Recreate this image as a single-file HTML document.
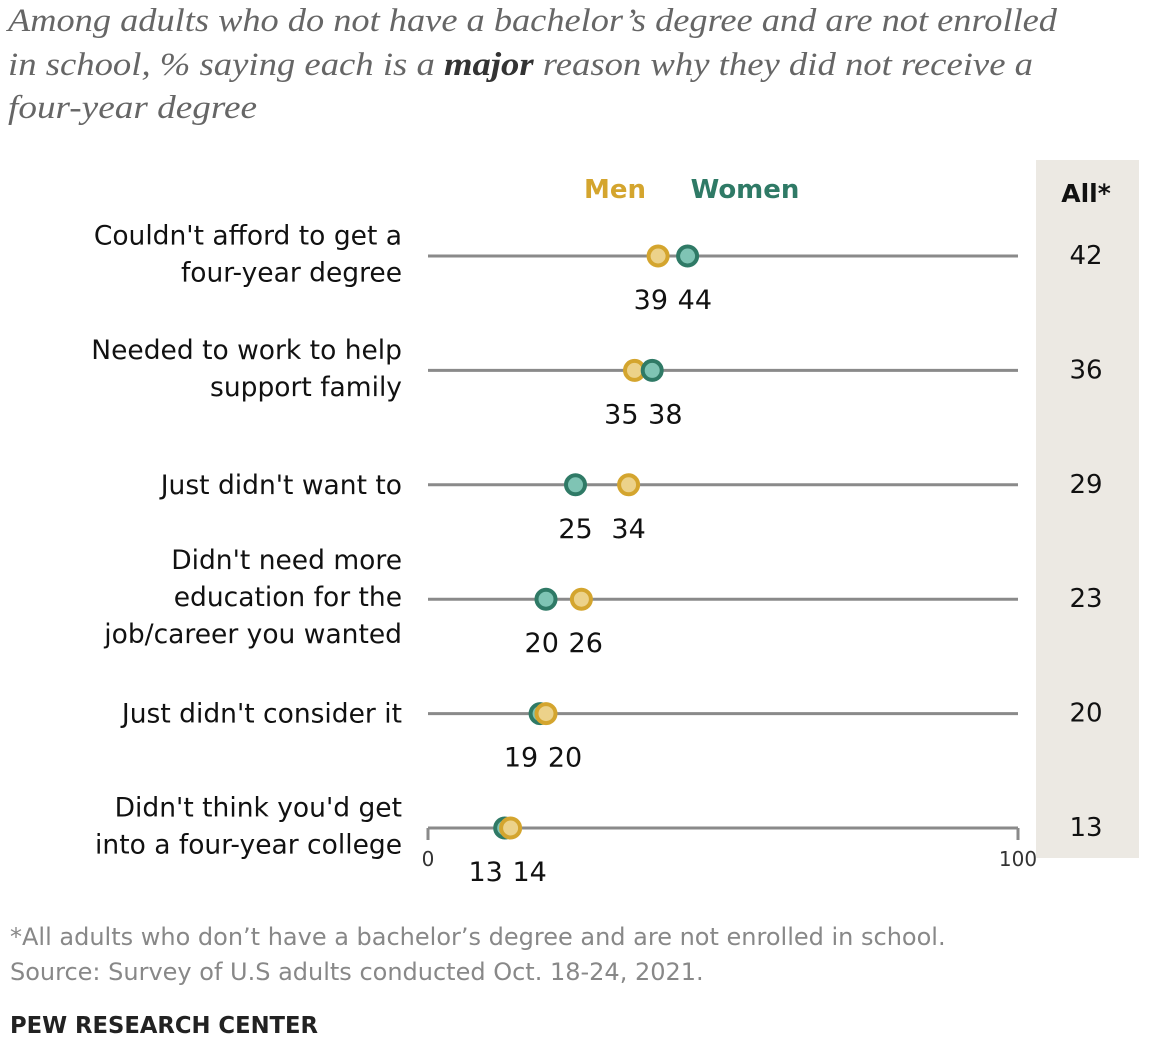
<!DOCTYPE html>
<html><head><meta charset="utf-8"><style>
body{margin:0;background:#fff;}
</style></head><body>
<svg width="1169" height="1042" xmlns="http://www.w3.org/2000/svg" id="chart" style="font-family:'DejaVu Sans',sans-serif">
<g style="font-family:'Liberation Serif',serif;font-style:italic" font-size="33" fill="#666">
<text x="8" y="31" textLength="1049" lengthAdjust="spacingAndGlyphs">Among adults who do not have a bachelor’s degree and are not enrolled</text>
<text x="8" y="75" textLength="1025" lengthAdjust="spacingAndGlyphs">in school, % saying each is a <tspan font-weight="bold" fill="#333">major</tspan> reason why they did not receive a</text>
<text x="8" y="118" textLength="249" lengthAdjust="spacingAndGlyphs">four-year degree</text>
</g>
<rect x="1036" y="160" width="103" height="698" fill="#ece9e3"/>
<text x="1086" y="202" text-anchor="middle" font-size="25" font-weight="bold" fill="#111">All*</text>
<text x="615" y="198" text-anchor="middle" font-size="26" font-weight="bold" fill="#d4a52e">Men</text>
<text x="745" y="198" text-anchor="middle" font-size="26" font-weight="bold" fill="#2f7a66">Women</text>
<g id="rows"></g>
<text x="428" y="866" text-anchor="middle" font-size="20" fill="#333">0</text>
<text x="1018" y="866" text-anchor="middle" font-size="20" fill="#333">100</text>
<text x="10" y="945" font-size="24" fill="#888">*All adults who don’t have a bachelor’s degree and are not enrolled in school.</text>
<text x="10" y="980" font-size="24" fill="#888">Source: Survey of U.S adults conducted Oct. 18-24, 2021.</text>
<text x="10" y="1033" font-size="22.7" font-weight="bold" fill="#222">PEW RESEARCH CENTER</text>
</svg>
<script>
const categories = [["Couldn't afford to get a","four-year degree"],["Needed to work to help","support family"],["Just didn't want to"],["Didn't need more","education for the","job/career you wanted"],["Just didn't consider it"],["Didn't think you'd get","into a four-year college"]];
const menValues = [39,35,34,26,20,14];
const womenValues = [44,38,25,20,19,13];
const allValues = [42,36,29,23,20,13];
const NS="http://www.w3.org/2000/svg";
const x0=428,x1=1018;
const xs=v=>x0+(x1-x0)*v/100;
const rowY=i=>256+i*114.4;
const g=document.getElementById('rows');
function mk(t,a){const e=document.createElementNS(NS,t);for(const k in a)e.setAttribute(k,a[k]);return e;}
categories.forEach((lines,i)=>{
  const y=rowY(i);
  const line=mk('line',{x1:x0,x2:x1,y1:y,y2:y,stroke:'#8a8a8a','stroke-width':3});
  
  
  g.appendChild(line);
  const n=lines.length, lh=37;
  lines.forEach((s,j)=>{
    const t=mk('text',{x:402,y:y+9+(j-(n-1)/2)*lh-(n>1?2:0),'text-anchor':'end','font-size':26.5,fill:'#111'});
    t.textContent=s;
    
    
    g.appendChild(t);
  });
  const a=mk('text',{x:1086,y:y+8,'text-anchor':'middle','font-size':26,fill:'#111'});
  a.textContent=allValues[i];
  
  
  g.appendChild(a);
  const mx=xs(menValues[i]),wx=xs(womenValues[i]);
  let ml=mx,wl=wx;
  const sep=44;
  if(Math.abs(mx-wx)<sep){const c=(mx+wx)/2;const d=(menValues[i]>womenValues[i]?1:(menValues[i]<womenValues[i]?-1:1));ml=c+d*sep/2;wl=c-d*sep/2;}
  const order=menValues[i]>=womenValues[i]?[['women',wx,'#2f7a66','#7fc4b4'],['men',mx,'#d4a52e','#ecd28a']]:[['men',mx,'#d4a52e','#ecd28a'],['women',wx,'#2f7a66','#7fc4b4']];
  order.forEach(o=>{
    const c=mk('circle',{cx:o[1],cy:y,r:9.5,fill:o[3],stroke:o[2],'stroke-width':4});
    
    
    g.appendChild(c);
  });
  [['men',ml,menValues[i]],['women',wl,womenValues[i]]].forEach(o=>{
    const t=mk('text',{x:o[1],y:y+53,'text-anchor':'middle','font-size':27,fill:'#111'});
    t.textContent=o[2];
    
    
    g.appendChild(t);
  });
});
const lastY=rowY(5);
[x0,x1].forEach(x=>{const t=mk('line',{x1:x,x2:x,y1:lastY,y2:lastY+12,stroke:'#8a8a8a','stroke-width':3});


g.appendChild(t);});
</script>
</body></html>
